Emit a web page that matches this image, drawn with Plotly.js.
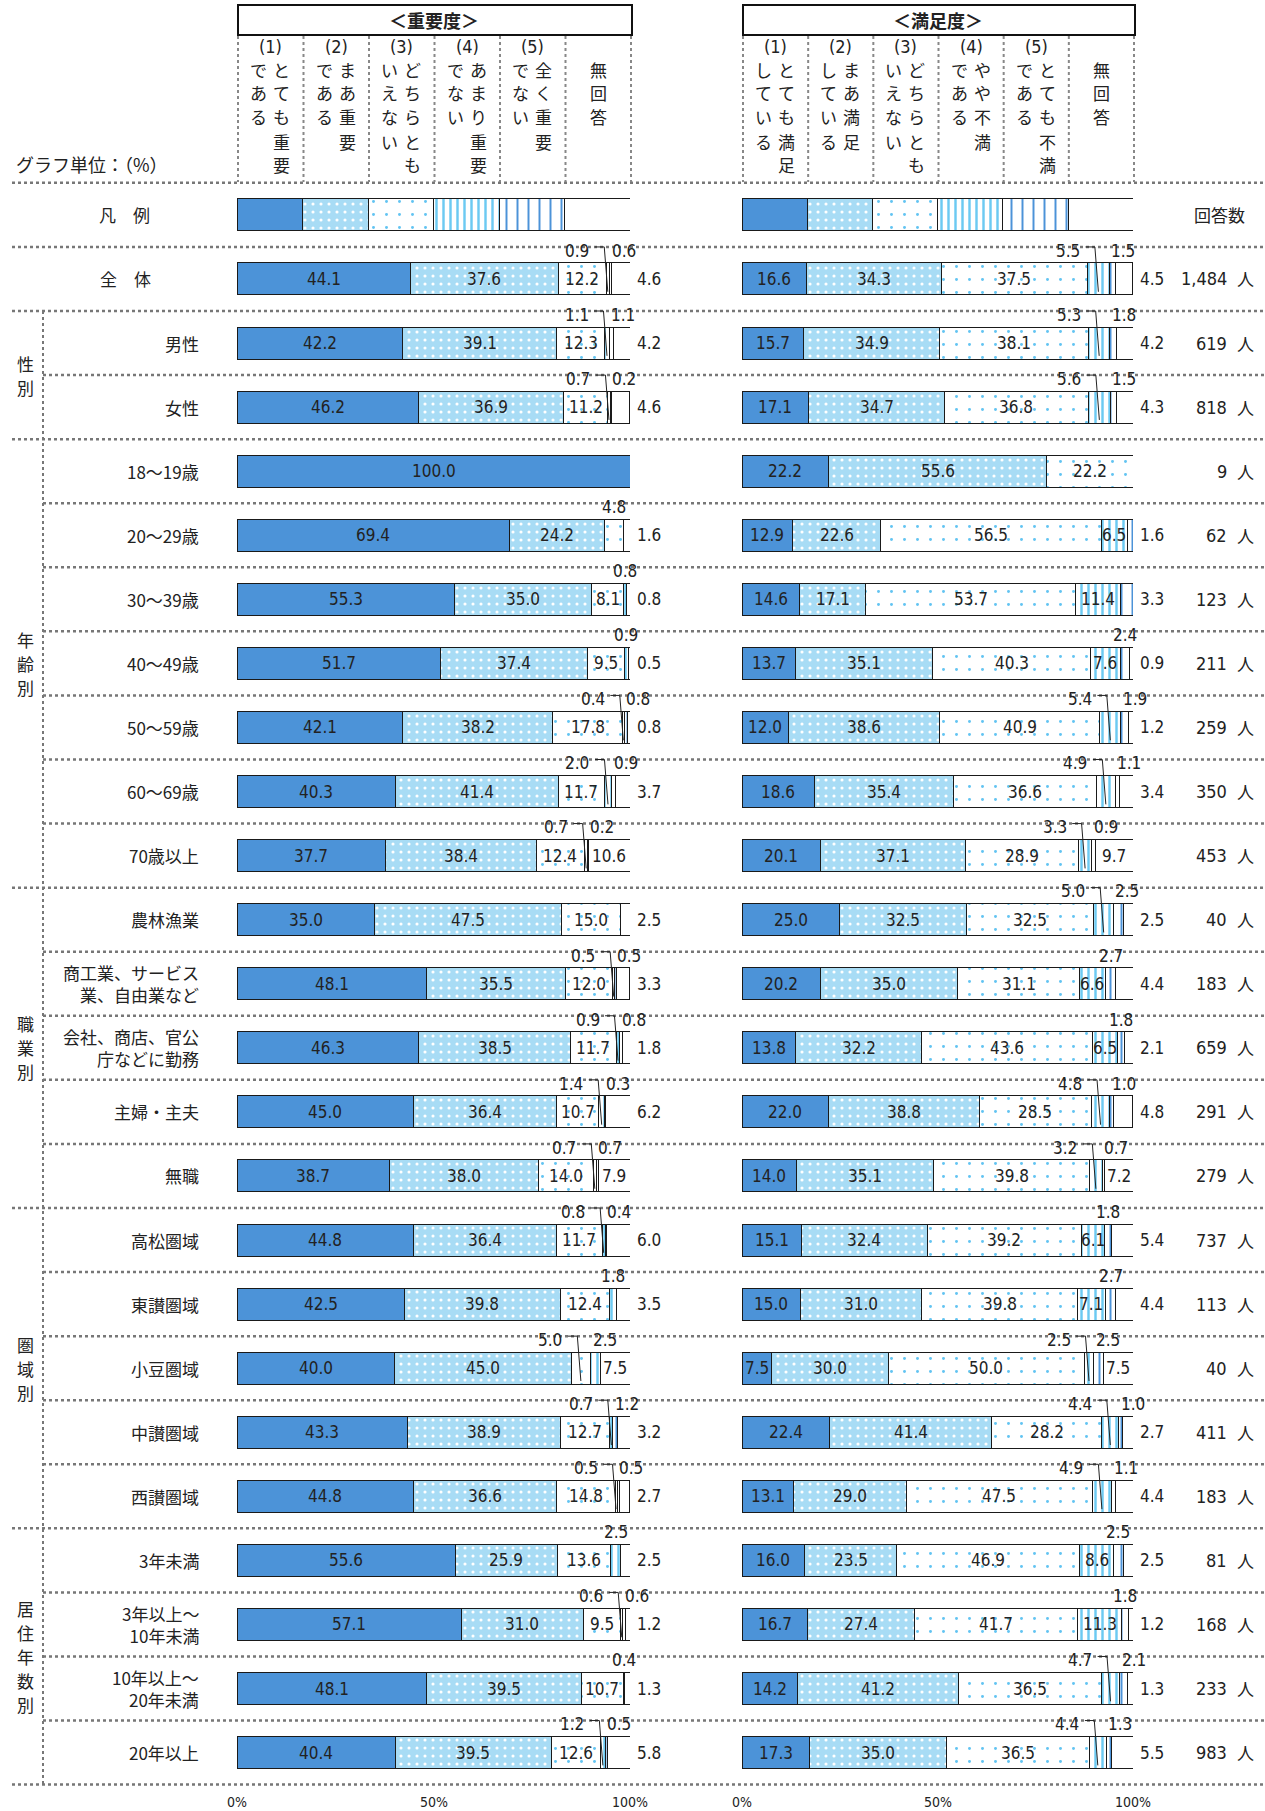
<!DOCTYPE html>
<html><head><meta charset="utf-8">
<script src="https://cdn.plot.ly/plotly-3.0.1.min.js"></script>
<style>body{margin:0;background:#fff}#chart{width:1265px;height:1811px}</style>
</head><body><div id="chart"></div>
<script>
// ---------- DATA ----------
const categories = ['全　体','男性','女性','18～19歳','20～29歳','30～39歳','40～49歳','50～59歳','60～69歳','70歳以上',
  '農林漁業','商工業、サービス<br>業、自由業など','会社、商店、官公<br>庁などに勤務','主婦・主夫','無職',
  '高松圏域','東讃圏域','小豆圏域','中讃圏域','西讃圏域',
  '3年未満','3年以上～<br>10年未満','10年以上～<br>20年未満','20年以上'];
const groups = [
  {name:'性別', from:2, to:3},
  {name:'年齢別', from:4, to:10},
  {name:'職業別', from:11, to:15},
  {name:'圏域別', from:16, to:20},
  {name:'居住年数別', from:21, to:24}
];
const legendParts = [16.7,16.7,16.6,16.7,16.7,16.6];

// 重要度
const imp1  = [44.1,42.2,46.2,100.0,69.4,55.3,51.7,42.1,40.3,37.7,35.0,48.1,46.3,45.0,38.7,44.8,42.5,40.0,43.3,44.8,55.6,57.1,48.1,40.4];
const imp2  = [37.6,39.1,36.9,0,24.2,35.0,37.4,38.2,41.4,38.4,47.5,35.5,38.5,36.4,38.0,36.4,39.8,45.0,38.9,36.6,25.9,31.0,39.5,39.5];
const imp3  = [12.2,12.3,11.2,0,4.8,8.1,9.5,17.8,11.7,12.4,15.0,12.0,11.7,10.7,14.0,11.7,12.4,5.0,12.7,14.8,13.6,9.5,10.7,12.6];
const imp4  = [0.9,1.1,0.7,0,0,0.8,0.9,0.4,2.0,0.7,0,0.5,0.9,1.4,0.7,0.8,1.8,2.5,0.7,0.5,2.5,0.6,0.4,1.2];
const imp5  = [0.6,1.1,0.2,0,0,0,0,0.8,0.9,0.2,0,0.5,0.8,0.3,0.7,0.4,0,0,1.2,0.5,0,0.6,0,0.5];
const impNA = [4.6,4.2,4.6,0,1.6,0.8,0.5,0.8,3.7,10.6,2.5,3.3,1.8,6.2,7.9,6.0,3.5,7.5,3.2,2.7,2.5,1.2,1.3,5.8];

// 満足度
const sat1  = [16.6,15.7,17.1,22.2,12.9,14.6,13.7,12.0,18.6,20.1,25.0,20.2,13.8,22.0,14.0,15.1,15.0,7.5,22.4,13.1,16.0,16.7,14.2,17.3];
const sat2  = [34.3,34.9,34.7,55.6,22.6,17.1,35.1,38.6,35.4,37.1,32.5,35.0,32.2,38.8,35.1,32.4,31.0,30.0,41.4,29.0,23.5,27.4,41.2,35.0];
const sat3  = [37.5,38.1,36.8,22.2,56.5,53.7,40.3,40.9,36.6,28.9,32.5,31.1,43.6,28.5,39.8,39.2,39.8,50.0,28.2,47.5,46.9,41.7,36.5,36.5];
const sat4  = [5.5,5.3,5.6,0,6.5,11.4,7.6,5.4,4.9,3.3,5.0,6.6,6.5,4.8,3.2,6.1,7.1,2.5,4.4,4.9,8.6,11.3,4.7,4.4];
const sat5  = [1.5,1.8,1.5,0,1.6,3.3,2.4,1.9,1.1,0.9,2.5,2.7,1.8,1.0,0.7,1.8,2.7,2.5,1.0,1.1,2.5,1.8,2.1,1.3];
const satNA = [4.5,4.2,4.3,0,0,0,0.9,1.2,3.4,9.7,2.5,4.4,2.1,4.8,7.2,5.4,4.4,7.5,2.7,4.4,2.5,1.2,1.3,5.5];

const counts = ['1,484','619','818','9','62','123','211','259','350','453','40','183','659','291','279','737','113','40','411','183','81','168','233','983'];

const impHeaders = [
  {num:'(1)', right:'とても重要', left:'である'},
  {num:'(2)', right:'まあ重要', left:'である'},
  {num:'(3)', right:'どちらとも', left:'いえない'},
  {num:'(4)', right:'あまり重要', left:'でない'},
  {num:'(5)', right:'全く重要', left:'でない'},
  {num:'', right:'無回答', left:''}
];
const satHeaders = [
  {num:'(1)', right:'とても満足', left:'している'},
  {num:'(2)', right:'まあ満足', left:'している'},
  {num:'(3)', right:'どちらとも', left:'いえない'},
  {num:'(4)', right:'やや不満', left:'である'},
  {num:'(5)', right:'とても不満', left:'である'},
  {num:'', right:'無回答', left:''}
];
const ticks = [0,50,100];
const tickLabels = ['0%','50%','100%'];

// ---------- STYLE / LAYOUT HELPERS ----------
const W = 1265, H = 1811;
const px = v => v / W;
const py = v => 1 - v / H;
const FONT = '"Noto Sans CJK JP", "Noto Sans", sans-serif';
const NUMFONT = '"DejaVu Sans Condensed", "Liberation Sans Narrow", "Noto Sans CJK JP", sans-serif';
const TXT = '#222';
const ROWPX = 64.07;       // pixel height per row
const Y0PX = 214.9;        // pixel y of legend row centre
const P1 = [237, 630], P2 = [742, 1133];

const levelStyles = [
  {color:'#4c93d8'},
  {color:'#a8dcf5', pattern:{shape:'.', bgcolor:'#a8dcf5', fgcolor:'#ffffff', size:8, solidity:0.12}},
  {color:'#ffffff', pattern:{shape:'.', bgcolor:'#ffffff', fgcolor:'#62c4f2', size:13, solidity:0.04}},
  {color:'#ffffff', pattern:{shape:'|', bgcolor:'#ffffff', fgcolor:'#6ccaf2', size:7, solidity:0.35}},
  {color:'#ffffff', pattern:{shape:'|', bgcolor:'#ffffff', fgcolor:'#4c93d8', size:11, solidity:0.18}},
  {color:'#ffffff'}
];

const annotations = [];
const shapes = [];
function ann(o){
  const f = Object.assign({family:FONT, size:16, color:TXT}, o.font || {});
  annotations.push(Object.assign({showarrow:false, xanchor:'center', yanchor:'middle'}, o, {font:f}));
}
const NUMF = {family:NUMFONT, size:17};

const ys = [0].concat(categories.map((c,i)=>i+1));
const traces = [];
function addPanel(levels, xaxis){
  levels.forEach((arr,k)=>{
    const st = levelStyles[k];
    const marker = {color: st.color, line:{color:'#1a1a1a', width:1}};
    if (st.pattern) marker.pattern = st.pattern;
    traces.push({
      type:'bar', orientation:'h', xaxis:xaxis, yaxis:'y',
      y: ys, x: [legendParts[k]].concat(arr.map(v => v > 0 ? v : null)),
      width: 0.5, marker: marker, hoverinfo:'skip', showlegend:false
    });
  });
}
const impLevels = [imp1, imp2, imp3, imp4, imp5, impNA];
const satLevels = [sat1, sat2, sat3, sat4, sat5, satNA];
addPanel(impLevels, 'x');
addPanel(satLevels, 'x2');

function labelPanel(levels, xr){
  for (let i = 0; i < categories.length; i++){
    const y = i + 1;
    const vals = levels.map(a => a[i]);
    let lastNZ = -1;
    vals.forEach((v,k)=>{ if (v > 0) lastNZ = k; });
    let start = 0;
    const smalls = [];
    vals.forEach((v,k)=>{
      if (v > 0){
        const c = start + v/2;
        if (k === lastNZ && v < 7){
          ann({xref:xr, yref:'y', x:100, xshift:5, y:y, xanchor:'left', text:v.toFixed(1), font:NUMF});
        } else if (v >= (k === 5 ? 7 : 6)){
          ann({xref:xr, yref:'y', x:c, y:y, text:v.toFixed(1), font:NUMF});
        } else {
          smalls.push({v:v, start:start, c:c});
        }
      }
      start += v;
    });
    const ya = y - 0.44;
    if (smalls.length === 1){
      ann({xref:xr, yref:'y', x:smalls[0].c, y:ya, text:smalls[0].v.toFixed(1), font:NUMF});
    } else if (smalls.length >= 2){
      const a = smalls[0], b = smalls[1];
      ann({xref:xr, yref:'y', x:a.c - 4.2, y:ya, xanchor:'right', text:a.v.toFixed(1), font:NUMF});
      shapes.push({type:'path', xref:xr, yref:'y', layer:'above',
        path:`M${a.c-3.3},${y-0.5} L${a.c-0.9},${y-0.5} L${a.c},${y+0.2}`,
        line:{color:'#222', width:1}});
      ann({xref:xr, yref:'y', x:b.start, y:ya, xanchor:'left', text:b.v.toFixed(1), font:NUMF});
      for (let s = 2; s < smalls.length; s++)
        ann({xref:xr, yref:'y', x:smalls[s].c, y:ya, text:smalls[s].v.toFixed(1), font:NUMF});
    }
  }
}
labelPanel(impLevels, 'x');
labelPanel(satLevels, 'x2');

// category labels & counts
categories.forEach((c,i)=>{
  const y = i + 1;
  if (i === 0) ann({xref:'paper', yref:'y', x:px(125), y:y, text:c, font:{size:17}});
  else ann({xref:'paper', yref:'y', x:px(201), y:y, xanchor:'right', align:'right', text:c, font:{size:17}});
  ann({xref:'paper', yref:'y', x:px(1229), y:y, xanchor:'right', text:counts[i], font:{family:NUMFONT, size:18}});
  ann({xref:'paper', yref:'y', x:px(1245), y:y, text:'人', font:{size:17}});
});
ann({xref:'paper', yref:'y', x:px(124), y:0, text:'凡　例', font:{size:17}});
ann({xref:'paper', yref:'y', x:px(1219), y:0, text:'回答数', font:{size:17}});

// group labels (vertical)
groups.forEach(g=>{
  const chars = Array.from(g.name);
  const mid = (g.from + g.to) / 2;
  const step = 24 / ROWPX;
  chars.forEach((ch,j)=>{
    ann({xref:'paper', yref:'y', x:px(25), y: mid + (j - (chars.length-1)/2) * step, text:ch, font:{size:17}});
  });
});

// separators
const SEP = {color:'#777', width:2.5, dash:'dot'};
const fullSeps = [-0.5, 0.5, 1.5, 3.5, 10.5, 15.5, 20.5, 24.5];
for (let r = -0.5; r <= 24.5; r += 1){
  const full = fullSeps.includes(r);
  shapes.push({type:'line', xref:'paper', yref:'y', x0: full ? px(12) : px(43), x1:1, y0:r, y1:r, line:SEP, layer:'below'});
}
shapes.push({type:'line', xref:'paper', yref:'y', x0:px(43), x1:px(43), y0:1.5, y1:24.5, line:{color:'#777', width:2, dash:'dot'}});

// headers
function header(panel, title, cols){
  const [L, R] = panel;
  const cw = (R - L) / 6;
  shapes.push({type:'rect', xref:'paper', yref:'paper', x0:px(L+1), x1:px(R+2), y0:py(5), y1:py(35), line:{color:'#111', width:2}});
  ann({xref:'paper', yref:'paper', x:px((L+R)/2), y:py(20), text:'<b>' + title + '</b>', font:{size:18}});
  for (let k = 0; k <= 6; k++){
    const x = L + 1 + k * cw;
    shapes.push({type:'line', xref:'paper', yref:'paper', x0:px(x), x1:px(x), y0:py(36), y1:py(182), line:{color:'#888', width:2, dash:'dot'}});
  }
  const rowsY = [69, 93, 117, 141, 165];
  cols.forEach((h,k)=>{
    const cx = L + 1 + (k + 0.5) * cw;
    if (h.num){
      ann({xref:'paper', yref:'paper', x:px(cx), y:py(46), text:h.num, font:{family:NUMFONT, size:18}});
      Array.from(h.right).forEach((ch,j)=> ann({xref:'paper', yref:'paper', x:px(cx+11), y:py(rowsY[j]), text:ch, font:{size:17}}));
      Array.from(h.left).forEach((ch,j)=> ann({xref:'paper', yref:'paper', x:px(cx-12), y:py(rowsY[j]), text:ch, font:{size:17}}));
    } else {
      Array.from(h.right).forEach((ch,j)=> ann({xref:'paper', yref:'paper', x:px(cx), y:py(rowsY[j]), text:ch, font:{size:17}}));
    }
  });
}
header(P1, '＜重要度＞', impHeaders);
header(P2, '＜満足度＞', satHeaders);
ann({xref:'paper', yref:'paper', x:px(14), y:py(164), xanchor:'left', text:'グラフ単位：（%）', font:{size:18}});

// tick labels
['x','x2'].forEach(xr=>{
  ticks.forEach((t,j)=> ann({xref:xr, yref:'paper', x:t, y:py(1802), text:tickLabels[j], font:{family:NUMFONT, size:14}}));
});

const yTop = -Y0PX / ROWPX, yBot = (H - Y0PX) / ROWPX;
const layout = {
  width: W, height: H,
  margin: {l:0, r:0, t:0, b:0},
  paper_bgcolor: '#ffffff', plot_bgcolor: 'rgba(0,0,0,0)',
  barmode: 'stack', showlegend: false,
  font: {family: FONT, color: TXT},
  xaxis: {domain:[px(P1[0]), px(P1[1])], range:[0,100], visible:false, fixedrange:true},
  xaxis2: {domain:[px(P2[0]), px(P2[1])], range:[0,100], visible:false, anchor:'y', fixedrange:true},
  yaxis: {domain:[0,1], range:[yBot, yTop], visible:false, fixedrange:true},
  annotations: annotations,
  shapes: shapes
};
Plotly.newPlot('chart', traces, layout, {staticPlot:true, displayModeBar:false});
</script></body></html>
